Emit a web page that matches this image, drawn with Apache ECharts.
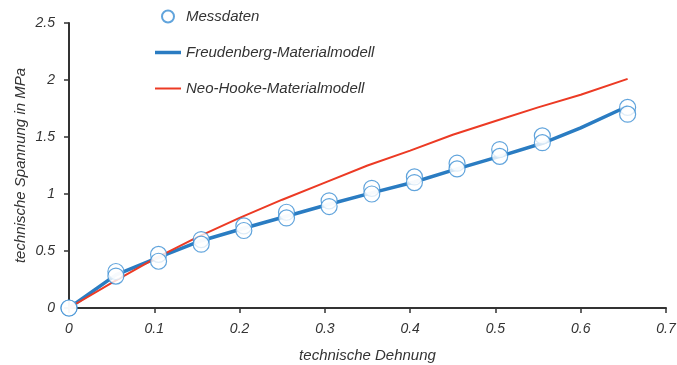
<!DOCTYPE html>
<html>
<head>
<meta charset="utf-8">
<script src="https://cdn.jsdelivr.net/npm/echarts@6/dist/echarts.min.js"></script>
<style>
  html, body { margin: 0; padding: 0; background: #fff; }
  #chart { width: 677px; height: 365px; }
</style>
</head>
<body>
<div id="chart"></div>
<script>
// Messdaten: two readings per strain step (upper / lower)
const strainMeas = [0, 0.055, 0.105, 0.155, 0.205, 0.255, 0.305, 0.355, 0.405, 0.455, 0.505, 0.555, 0.655];
const stressUpper = [0, 0.32, 0.47, 0.60, 0.72, 0.84, 0.94, 1.05, 1.15, 1.27, 1.39, 1.51, 1.76];
const stressLower = [0, 0.28, 0.41, 0.56, 0.68, 0.79, 0.89, 1.00, 1.10, 1.22, 1.33, 1.45, 1.70];

// Freudenberg-Materialmodell
const strainFreud = [0, 0.055, 0.105, 0.155, 0.205, 0.255, 0.305, 0.355, 0.405, 0.455, 0.505, 0.555, 0.6, 0.655];
const stressFreud = [0, 0.29, 0.445, 0.59, 0.70, 0.805, 0.91, 1.01, 1.105, 1.22, 1.33, 1.445, 1.58, 1.77];

// Neo-Hooke-Materialmodell
const strainNeo = [0, 0.05, 0.1, 0.15, 0.2, 0.25, 0.3, 0.35, 0.4, 0.45, 0.5, 0.55, 0.6, 0.655];
const stressNeo = [0, 0.22, 0.43, 0.62, 0.79, 0.95, 1.10, 1.25, 1.38, 1.52, 1.64, 1.76, 1.87, 2.01];

const pairs = (xs, ys) => xs.map((x, i) => [x, ys[i]]);

const font = 'Liberation Sans, Arial, sans-serif';
const blue = '#2a7cc2';
const red = '#ec3a24';
const textColor = '#333';

const chart = echarts.init(document.getElementById('chart'));

chart.setOption({
    animation: false,
    // fixed plot area, do not let v6 shrink it to fit the axis names
    grid: { left: 69, right: 11, top: 23, bottom: 57, outerBoundsMode: 'none' },
    legend: {
        left: 155,
        top: 9,
        padding: 0,
        orient: 'vertical',
        itemWidth: 26,
        itemHeight: 12,
        itemGap: 21,
        data: [
            { name: 'Messdaten' },
            // plain bar icons, no symbol on the line
            { name: 'Freudenberg-Materialmodell', icon: 'path://M0,0L26,0L26,3.5L0,3.5Z' },
            { name: 'Neo-Hooke-Materialmodell', icon: 'path://M0,0L26,0L26,2L0,2Z' }
        ],
        textStyle: { fontFamily: font, fontStyle: 'italic', fontSize: 15, color: textColor }
    },
    xAxis: {
        type: 'value',
        min: 0,
        max: 0.7,
        interval: 0.1,
        name: 'technische Dehnung',
        nameLocation: 'middle',
        nameGap: 40,
        nameMoveOverlap: false,
        nameTextStyle: { fontFamily: font, fontStyle: 'italic', fontSize: 15, color: textColor },
        axisLine: { show: true, lineStyle: { color: '#333', width: 2 } },
        axisTick: { show: true, length: 5, lineStyle: { color: '#333', width: 1.5 } },
        axisLabel: { fontFamily: font, fontStyle: 'italic', fontSize: 14, color: textColor, margin: 14 },
        splitLine: { show: false }
    },
    yAxis: {
        type: 'value',
        min: 0,
        max: 2.5,
        interval: 0.5,
        name: 'technische Spannung in MPa',
        nameLocation: 'middle',
        nameGap: 41,
        nameMoveOverlap: false,
        nameTextStyle: { fontFamily: font, fontStyle: 'italic', fontSize: 15, color: textColor },
        axisLine: { show: true, lineStyle: { color: '#333', width: 2 } },
        axisTick: { show: true, length: 5, lineStyle: { color: '#333', width: 1.5 } },
        axisLabel: { fontFamily: font, fontStyle: 'italic', fontSize: 14, color: textColor, margin: 14 },
        splitLine: { show: false }
    },
    series: [
        {
            name: 'Freudenberg-Materialmodell',
            type: 'line',
            symbol: 'none',
            data: pairs(strainFreud, stressFreud),
            lineStyle: { color: blue, width: 3.5 },
            itemStyle: { color: blue },
            z: 2
        },
        {
            name: 'Neo-Hooke-Materialmodell',
            type: 'line',
            symbol: 'none',
            data: pairs(strainNeo, stressNeo),
            lineStyle: { color: red, width: 2 },
            itemStyle: { color: red },
            z: 3
        },
        {
            name: 'Messdaten',
            type: 'scatter',
            symbol: 'circle',
            symbolSize: 16,
            data: pairs(strainMeas, stressUpper),
            itemStyle: { color: '#fff', borderColor: '#3a8dd3', borderWidth: 1.2 },
            z: 4
        },
        {
            name: 'Messdaten',
            type: 'scatter',
            symbol: 'circle',
            symbolSize: 16,
            data: pairs(strainMeas, stressLower),
            itemStyle: { color: '#fff', borderColor: '#3a8dd3', borderWidth: 1.2 },
            z: 5
        }
    ]
});
</script>
</body>
</html>
